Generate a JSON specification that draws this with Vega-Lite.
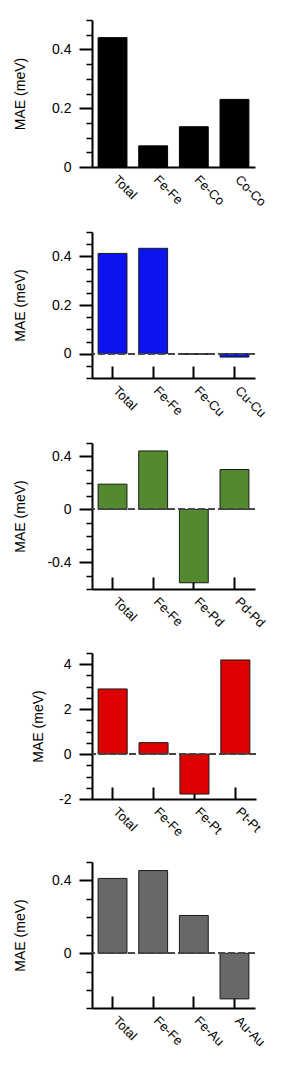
{
  "$schema": "https://vega.github.io/schema/vega-lite/v6.json",
  "padding": {"left": 13, "top": 13, "right": 0, "bottom": 0},
  "background": "white",
  "columns": 1,
  "align": "none",
  "center": true,
  "spacing": 16,
  "config": {
    "font": "Liberation Sans",
    "view": {"stroke": null},
    "axis": {
      "grid": false,
      "domainColor": "black",
      "domainWidth": 2,
      "tickColor": "black",
      "labelColor": "black",
      "titleColor": "black",
      "labelFont": "Liberation Sans",
      "titleFont": "Liberation Sans",
      "titleFontWeight": "normal",
      "labelOverlap": false,
      "labelFlush": false,
      "labelBound": false
    },
    "axisX": {
      "title": null,
      "tickSize": -12,
      "tickWidth": 2,
      "labelAngle": 45,
      "labelAlign": "left",
      "labelBaseline": "top",
      "labelPadding": 18,
      "labelOffset": 7,
      "labelFontSize": 13
    },
    "axisY": {
      "labelFontSize": 14,
      "titleFontSize": 14,
      "labelPadding": 8,
      "titlePadding": 20,
      "minExtent": 45,
      "maxExtent": 45
    }
  },
  "concat": [
    {
      "width": 163,
      "height": 147,
      "data": {"values": [
        {"pair": "Total", "mae": 0.44},
        {"pair": "Fe-Fe", "mae": 0.072},
        {"pair": "Fe-Co", "mae": 0.137},
        {"pair": "Co-Co", "mae": 0.23}
      ]},
      "mark": {"type": "bar", "fill": "#000000", "stroke": "#000000", "strokeWidth": 1},
      "encoding": {
        "x": {"field": "pair", "type": "nominal", "sort": null,
              "scale": {"paddingInner": 0.29, "paddingOuter": 0.15}},
        "y": {"field": "mae", "type": "quantitative", "title": "MAE (meV)",
              "scale": {"domain": [0, 0.5], "nice": false, "zero": false},
              "axis": {
                "values": [0, 0.05, 0.1, 0.15, 0.2, 0.25, 0.3, 0.35, 0.4, 0.45, 0.5],
                "labelExpr": "indexof([0, 0.2, 0.4], datum.value) >= 0 ? '' + datum.value : ''",
                "tickSize": {"condition": {"test": "indexof([0, 0.2, 0.4], datum.value) >= 0", "value": 13}, "value": 6},
                "tickWidth": {"condition": {"test": "indexof([0, 0.2, 0.4], datum.value) >= 0", "value": 2}, "value": 1.5}
              }}
      }
    },
    {
      "width": 163,
      "height": 146,
      "data": {"values": [
        {"pair": "Total", "mae": 0.412},
        {"pair": "Fe-Fe", "mae": 0.433},
        {"pair": "Fe-Cu", "mae": -0.003},
        {"pair": "Cu-Cu", "mae": -0.014}
      ]},
      "encoding": {
        "x": {"field": "pair", "type": "nominal", "sort": null,
              "scale": {"paddingInner": 0.29, "paddingOuter": 0.15}},
        "y": {"field": "mae", "type": "quantitative", "title": "MAE (meV)",
              "scale": {"domain": [-0.1, 0.5], "nice": false, "zero": false},
              "axis": {
                "values": [-0.1, -0.05, 0, 0.05, 0.1, 0.15, 0.2, 0.25, 0.3, 0.35, 0.4, 0.45, 0.5],
                "labelExpr": "indexof([0, 0.2, 0.4], datum.value) >= 0 ? '' + datum.value : ''",
                "tickSize": {"condition": {"test": "indexof([0, 0.2, 0.4], datum.value) >= 0", "value": 13}, "value": 6},
                "tickWidth": {"condition": {"test": "indexof([0, 0.2, 0.4], datum.value) >= 0", "value": 2}, "value": 1.5}
              }}
      },
      "layer": [
        {"mark": {"type": "bar", "fill": "#0c14ee", "stroke": "#1a1a1a", "strokeWidth": 1}},
        {"mark": {"type": "rule", "color": "#444444", "strokeWidth": 1.5, "strokeDash": [7, 3]},
         "encoding": {"x": null, "y": {"datum": 0}}}
      ]
    },
    {
      "width": 163,
      "height": 146,
      "data": {"values": [
        {"pair": "Total", "mae": 0.19},
        {"pair": "Fe-Fe", "mae": 0.44},
        {"pair": "Fe-Pd", "mae": -0.553},
        {"pair": "Pd-Pd", "mae": 0.30}
      ]},
      "encoding": {
        "x": {"field": "pair", "type": "nominal", "sort": null,
              "scale": {"paddingInner": 0.29, "paddingOuter": 0.15}},
        "y": {"field": "mae", "type": "quantitative", "title": "MAE (meV)",
              "scale": {"domain": [-0.6, 0.5], "nice": false, "zero": false},
              "axis": {
                "values": [-0.6, -0.5, -0.4, -0.3, -0.2, -0.1, 0, 0.1, 0.2, 0.3, 0.4, 0.5],
                "labelExpr": "indexof([-0.4, 0, 0.4], datum.value) >= 0 ? '' + datum.value : ''",
                "tickSize": {"condition": {"test": "indexof([-0.4, 0, 0.4], datum.value) >= 0", "value": 13}, "value": 6},
                "tickWidth": {"condition": {"test": "indexof([-0.4, 0, 0.4], datum.value) >= 0", "value": 2}, "value": 1.5}
              }}
      },
      "layer": [
        {"mark": {"type": "bar", "fill": "#548a2f", "stroke": "#1a1a1a", "strokeWidth": 1}},
        {"mark": {"type": "rule", "color": "#444444", "strokeWidth": 1.5, "strokeDash": [7, 3]},
         "encoding": {"x": null, "y": {"datum": 0}}}
      ]
    },
    {
      "width": 164,
      "height": 146,
      "data": {"values": [
        {"pair": "Total", "mae": 2.9},
        {"pair": "Fe-Fe", "mae": 0.51},
        {"pair": "Fe-Pt", "mae": -1.78},
        {"pair": "Pt-Pt", "mae": 4.19}
      ]},
      "encoding": {
        "x": {"field": "pair", "type": "nominal", "sort": null,
              "scale": {"paddingInner": 0.29, "paddingOuter": 0.15}},
        "y": {"field": "mae", "type": "quantitative", "title": "MAE (meV)",
              "scale": {"domain": [-2, 4.5], "nice": false, "zero": false},
              "axis": {
                "minExtent": 27,
                "maxExtent": 27,
                "values": [-2, -1.5, -1, -0.5, 0, 0.5, 1, 1.5, 2, 2.5, 3, 3.5, 4, 4.5],
                "labelExpr": "indexof([-2, 0, 2, 4], datum.value) >= 0 ? '' + datum.value : ''",
                "tickSize": {"condition": {"test": "indexof([-2, 0, 2, 4], datum.value) >= 0", "value": 13}, "value": 6},
                "tickWidth": {"condition": {"test": "indexof([-2, 0, 2, 4], datum.value) >= 0", "value": 2}, "value": 1.5}
              }}
      },
      "layer": [
        {"mark": {"type": "bar", "fill": "#dd0000", "stroke": "#1a1a1a", "strokeWidth": 1}},
        {"mark": {"type": "rule", "color": "#444444", "strokeWidth": 1.5, "strokeDash": [7, 3]},
         "encoding": {"x": null, "y": {"datum": 0}}}
      ]
    },
    {
      "width": 163,
      "height": 146,
      "data": {"values": [
        {"pair": "Total", "mae": 0.41},
        {"pair": "Fe-Fe", "mae": 0.453},
        {"pair": "Fe-Au", "mae": 0.207},
        {"pair": "Au-Au", "mae": -0.25}
      ]},
      "encoding": {
        "x": {"field": "pair", "type": "nominal", "sort": null,
              "scale": {"paddingInner": 0.29, "paddingOuter": 0.15}},
        "y": {"field": "mae", "type": "quantitative", "title": "MAE (meV)",
              "scale": {"domain": [-0.3, 0.5], "nice": false, "zero": false},
              "axis": {
                "values": [-0.3, -0.2, -0.1, 0, 0.1, 0.2, 0.3, 0.4, 0.5],
                "labelExpr": "indexof([0, 0.4], datum.value) >= 0 ? '' + datum.value : ''",
                "tickSize": {"condition": {"test": "indexof([0, 0.4], datum.value) >= 0", "value": 13}, "value": 6},
                "tickWidth": {"condition": {"test": "indexof([0, 0.4], datum.value) >= 0", "value": 2}, "value": 1.5}
              }}
      },
      "layer": [
        {"mark": {"type": "bar", "fill": "#686868", "stroke": "#1a1a1a", "strokeWidth": 1}},
        {"mark": {"type": "rule", "color": "#444444", "strokeWidth": 1.5, "strokeDash": [7, 3]},
         "encoding": {"x": null, "y": {"datum": 0}}}
      ]
    }
  ]
}
